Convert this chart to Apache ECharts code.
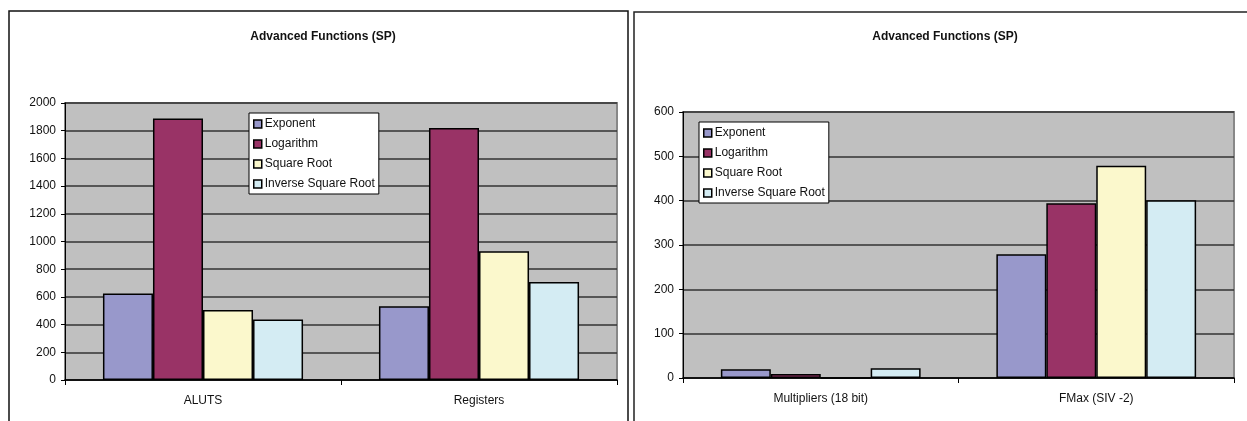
<!DOCTYPE html>
<html>
<head>
<meta charset="utf-8">
<script src="https://cdn.jsdelivr.net/npm/echarts@6/dist/echarts.min.js"></script>
<style>
html,body{margin:0;padding:0;background:#fff;}
#chart{width:1247px;height:421px;}
</style>
</head>
<body>
<div id="chart"></div>
<script>
// ---- data ----
const chartTitle = 'Advanced Functions (SP)';
const seriesNames = ['Exponent', 'Logarithm', 'Square Root', 'Inverse Square Root'];
const leftCategories = ['ALUTS', 'Registers'];
const leftExponent = [624, 532];
const leftLogarithm = [1888, 1820];
const leftSquareRoot = [506, 930];
const leftInvSqrt = [437, 707];
const rightCategories = ['Multipliers (18 bit)', 'FMax (SIV -2)'];
const rightExponent = [20, 279];
const rightLogarithm = [9, 394];
const rightSquareRoot = [0, 479];
const rightInvSqrt = [22, 401];
const leftTicks = [0, 2000, 200];   // min, max, interval
const rightTicks = [0, 600, 100];

// ---- styles ----
const colors = ['#9898CB', '#993366', '#FBF8CC', '#D4ECF3'];
const FONT = 'Liberation Sans, Arial, sans-serif';

const leftData = [leftExponent, leftLogarithm, leftSquareRoot, leftInvSqrt];
const rightData = [rightExponent, rightLogarithm, rightSquareRoot, rightInvSqrt];

function makeSeries(dataArr, idx) {
  return seriesNames.map((n, i) => ({
    name: n,
    type: 'bar',
    xAxisIndex: idx,
    yAxisIndex: idx,
    data: dataArr[i],
    barGap: '0%',
    barCategoryGap: '27.5%',
    itemStyle: { color: colors[i], borderColor: '#000', borderWidth: 1.5 },
    emphasis: { disabled: true },
    animation: false
  }));
}

function yAxis(idx, t) {
  return {
    type: 'value', gridIndex: idx, min: t[0], max: t[1], interval: t[2],
    axisLine: { show: true, lineStyle: { color: '#000', width: 1 } },
    axisTick: { show: true, length: 4, lineStyle: { color: '#000' } },
    axisLabel: { color: '#111', fontSize: 12, fontFamily: FONT, margin: 9, formatter: v => String(v) },
    splitLine: { show: true, lineStyle: { color: '#333', width: 1.5 } }
  };
}
function xAxis(idx, cats) {
  return {
    type: 'category', gridIndex: idx, data: cats,
    axisLine: { show: true, lineStyle: { color: '#000', width: 1.5 } },
    axisTick: { show: true, length: 5, alignWithLabel: false, lineStyle: { color: '#000' } },
    axisLabel: { color: '#111', fontSize: 12, fontFamily: FONT, margin: 15 }
  };
}
function legend(left, top) {
  return {
    data: seriesNames, orient: 'vertical', left: left, top: top,
    backgroundColor: '#fff', borderColor: '#000', borderWidth: 1,
    padding: [4, 4, 3, 4], itemGap: 6, itemWidth: 8, itemHeight: 8, icon: 'rect',
    itemStyle: { borderColor: '#000', borderWidth: 1.5 },
    textStyle: { color: '#111', fontSize: 12, fontFamily: FONT, lineHeight: 14, padding: [0, 0, 0, -2] },
    selectedMode: false
  };
}

const chart = echarts.init(document.getElementById('chart'), null, { renderer: 'canvas' });
chart.setOption({
  animation: false,
  textStyle: { fontFamily: FONT },
  graphic: [
    { type: 'rect', shape: { x: 9, y: 11, width: 619, height: 440 }, style: { fill: 'none', stroke: '#111', lineWidth: 1.5 }, z: -10 },
    { type: 'rect', shape: { x: 634, y: 12, width: 640, height: 440 }, style: { fill: 'none', stroke: '#222', lineWidth: 1.5 }, z: -10 }
  ],
  title: [
    { text: chartTitle, left: 318, top: 26, textAlign: 'center', textStyle: { fontSize: 12, fontWeight: 'bold', color: '#111', fontFamily: FONT } },
    { text: chartTitle, left: 940, top: 26, textAlign: 'center', textStyle: { fontSize: 12, fontWeight: 'bold', color: '#111', fontFamily: FONT } }
  ],
  legend: [legend(249, 113), legend(699, 122)],
  grid: [
    { left: 65, top: 103, width: 552, height: 277, show: true, backgroundColor: '#C0C0C0', borderColor: '#888', borderWidth: 2 },
    { left: 683, top: 112, width: 551, height: 266, show: true, backgroundColor: '#C0C0C0', borderColor: '#888', borderWidth: 2 }
  ],
  xAxis: [xAxis(0, leftCategories), xAxis(1, rightCategories)],
  yAxis: [yAxis(0, leftTicks), yAxis(1, rightTicks)],
  series: makeSeries(leftData, 0).concat(makeSeries(rightData, 1))
});
</script>
</body>
</html>
